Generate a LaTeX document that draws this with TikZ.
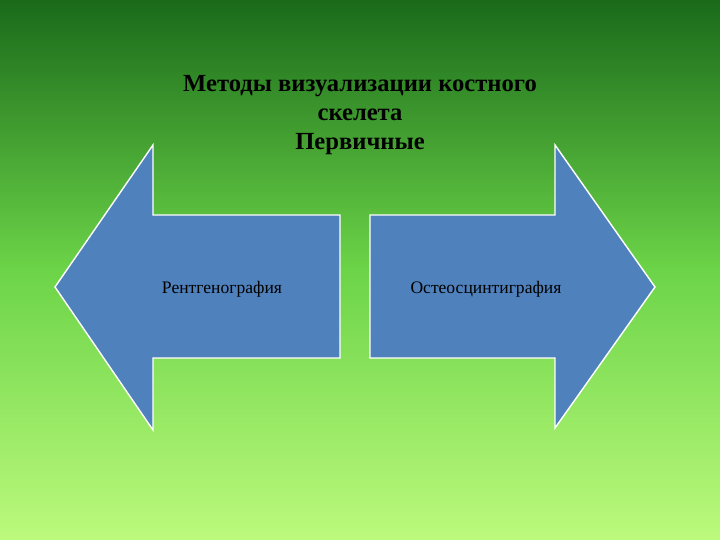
\documentclass[tikz,border=0pt]{standalone}
\usepackage{fontspec}
\setmainfont{Liberation Serif}
\definecolor{gtop}{HTML}{1A6A1A}
\definecolor{gmid}{HTML}{6CD448}
\definecolor{gbot}{HTML}{BCFA7C}
\definecolor{arrowblue}{HTML}{4F81BD}
\begin{document}
\begin{tikzpicture}[x=0.03cm,y=-0.03cm,
  arr/.style={fill=arrowblue,draw=white,line width=1.2pt,line join=miter},
  title/.style={font=\bfseries\fontsize{21}{25}\selectfont,align=center},
  lab/.style={font=\fontsize{15}{18}\selectfont}]
\useasboundingbox (0,0) rectangle (720,540);
\shade[top color=gtop,bottom color=gbot,middle color=gmid] (0,0) rectangle (720,540);
\draw[arr] (55,287) -- (153,145) -- (153,215) -- (340,215) -- (340,358) -- (153,358) -- (153,430) -- cycle;
\draw[arr] (655,287) -- (555,145) -- (555,215) -- (370,215) -- (370,358) -- (555,358) -- (555,428) -- cycle;
\node[title] (t) at (360,115) {Методы визуализации костного\\скелета\\Первичные};
\node[lab] (l) at (222,289) {Рентгенография};
\node[lab] (r) at (486,289) {Остеосцинтиграфия};
\end{tikzpicture}
\end{document}
